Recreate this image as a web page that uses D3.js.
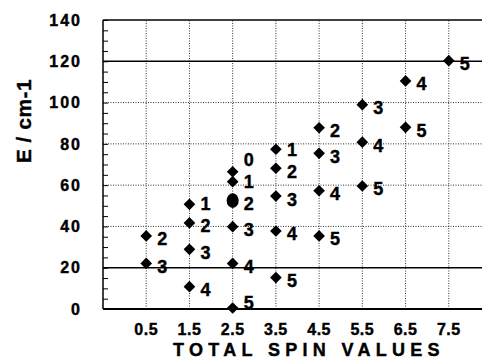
<!DOCTYPE html>
<html>
<head>
<meta charset="utf-8">
<script src="https://cdn.jsdelivr.net/npm/d3@7"></script>
<style>
  body { margin: 0; background: #fff; }
  svg { display: block; }
  text { font-family: "Liberation Sans", Arial, sans-serif; font-weight: bold; fill: #000; stroke: #000; stroke-width: 0.4; }
</style>
</head>
<body>
<div id="chart"></div>
<script>
// values
const spinValues = [0.5, 0.5,
  1.5, 1.5, 1.5, 1.5,
  2.5, 2.5, 2.5, 2.5, 2.5, 2.5,
  3.5, 3.5, 3.5, 3.5, 3.5,
  4.5, 4.5, 4.5, 4.5,
  5.5, 5.5, 5.5,
  6.5, 6.5,
  7.5];
const energies = [35.4, 22.1,
  50.7, 41.7, 28.9, 10.8,
  66.5, 61.7, 52.5, 39.9, 22.1, 0.5,
  77.4, 68.2, 54.7, 37.8, 15.2,
  87.8, 75.4, 57.3, 35.4,
  99.0, 80.8, 59.6,
  110.5, 88.0,
  120.3];
const pointLabels = ["2", "3",
  "1", "2", "3", "4",
  "0", "1", "2", "3", "4", "5",
  "1", "2", "3", "4", "5",
  "2", "3", "4", "5",
  "3", "4", "5",
  "4", "5",
  "5"];
// the "2" at 2.5 is drawn as a round blob (two marks on top of each other)
const roundMarks = [8];

const xTicks = [0.5, 1.5, 2.5, 3.5, 4.5, 5.5, 6.5, 7.5];
const yTicks = [0, 20, 40, 60, 80, 100, 120, 140];
const solidRules = [20, 120];
const dottedRules = [40, 60, 80, 100];

const width = 482, height = 364;
const margin = { top: 20, right: -10, bottom: 55, left: 103 };

const x = d3.scaleLinear()
  .domain([-0.5, 8.5])
  .range([margin.left, width - margin.right]);

const y = d3.scaleLinear()
  .domain([0, 140])
  .range([height - margin.bottom, margin.top]);

const svg = d3.select("#chart").append("svg")
  .attr("width", width)
  .attr("height", height);

const x0 = x.range()[0], x1 = x.range()[1];
const y0 = y.range()[0], y1 = y.range()[1];

// vertical dotted grid
svg.append("g")
  .selectAll("line")
  .data(xTicks)
  .join("line")
    .attr("x1", d => x(d)).attr("x2", d => x(d))
    .attr("y1", y0).attr("y2", y1)
    .attr("stroke", "#333")
    .attr("stroke-width", 1)
    .attr("stroke-dasharray", "1,1.5");

// horizontal grid
svg.append("g")
  .selectAll("line")
  .data(dottedRules)
  .join("line")
    .attr("x1", x0).attr("x2", x1)
    .attr("y1", d => y(d)).attr("y2", d => y(d))
    .attr("stroke", "#333")
    .attr("stroke-width", 1)
    .attr("stroke-dasharray", "1,1.5");

svg.append("g")
  .selectAll("line")
  .data(solidRules)
  .join("line")
    .attr("x1", x0).attr("x2", x1)
    .attr("y1", d => y(d)).attr("y2", d => y(d))
    .attr("stroke", "#000")
    .attr("stroke-width", 1.5);

// frame: top, left, bottom
svg.append("line")
  .attr("x1", x0).attr("x2", x1).attr("y1", y1).attr("y2", y1)
  .attr("stroke", "#000").attr("stroke-width", 1.5);
svg.append("line")
  .attr("x1", x0).attr("x2", x0).attr("y1", y1).attr("y2", y0)
  .attr("stroke", "#000").attr("stroke-width", 1.5);
svg.append("line")
  .attr("x1", x0).attr("x2", x1).attr("y1", y0).attr("y2", y0)
  .attr("stroke", "#000").attr("stroke-width", 2);

// y axis: minor ticks inside every 5, labels outside
svg.append("g")
  .attr("transform", `translate(${x0},0)`)
  .call(d3.axisRight(y).tickValues(d3.range(0, 141, 5)).tickSize(5).tickFormat(""))
  .call(g => g.select(".domain").remove())
  .call(g => g.selectAll(".tick line").attr("stroke", "#000").attr("stroke-width", 1));

svg.append("g")
  .selectAll("text")
  .data(yTicks)
  .join("text")
    .attr("x", 82)
    .attr("y", d => y(d))
    .attr("dy", "0.36em")
    .attr("text-anchor", "end")
    .attr("font-size", 16)
    .attr("letter-spacing", 2)
    .text(d => d);

// x tick labels
svg.append("g")
  .selectAll("text")
  .data(xTicks)
  .join("text")
    .attr("x", d => x(d))
    .attr("y", 335)
    .attr("text-anchor", "middle")
    .attr("font-size", 16)
    .attr("letter-spacing", 0.5)
    .text(d => d.toFixed(1));

// axis titles
svg.append("text")
  .attr("x", 309)
  .attr("y", 356)
  .attr("text-anchor", "middle")
  .attr("font-size", 18)
  .attr("letter-spacing", 5.3)
  .text("TOTAL SPIN VALUES");

svg.append("text")
  .attr("transform", `translate(31,121) rotate(-90)`)
  .attr("text-anchor", "middle")
  .attr("font-size", 21)
  .attr("letter-spacing", 0.5)
  .text("E / cm-1");

// points
const points = spinValues.map((s, i) => ({
  s, e: energies[i], label: pointLabels[i], round: roundMarks.includes(i)
}));

const diamond = d3.symbol(d3.symbolSquare, 68);
const blob = d3.symbol(d3.symbolCircle, 140);

svg.append("g")
  .selectAll("path")
  .data(points)
  .join("path")
    .attr("transform", d => d.round
      ? `translate(${x(d.s)},${y(d.e)}) scale(0.9,1.1)`
      : `translate(${x(d.s)},${y(d.e)}) rotate(45)`)
    .attr("d", d => d.round ? blob() : diamond())
    .attr("fill", "#000");

// label placement: a little below the mark, pushed apart within a column
points.forEach(d => { d.ly = Math.min(y(d.e) + 3, y0 - 6); });
d3.groups(points, d => d.s).forEach(([, col]) => {
  col.sort((a, b) => b.ly - a.ly);
  for (let i = 1; i < col.length; i++) {
    if (col[i - 1].ly - col[i].ly < 22) col[i].ly = col[i - 1].ly - 22;
  }
});

svg.append("g")
  .selectAll("text")
  .data(points)
  .join("text")
    .attr("x", d => x(d.s) + 11)
    .attr("y", d => d.ly)
    .attr("dy", "0.36em")
    .attr("font-size", 18)
    .text(d => d.label);
</script>
</body>
</html>
